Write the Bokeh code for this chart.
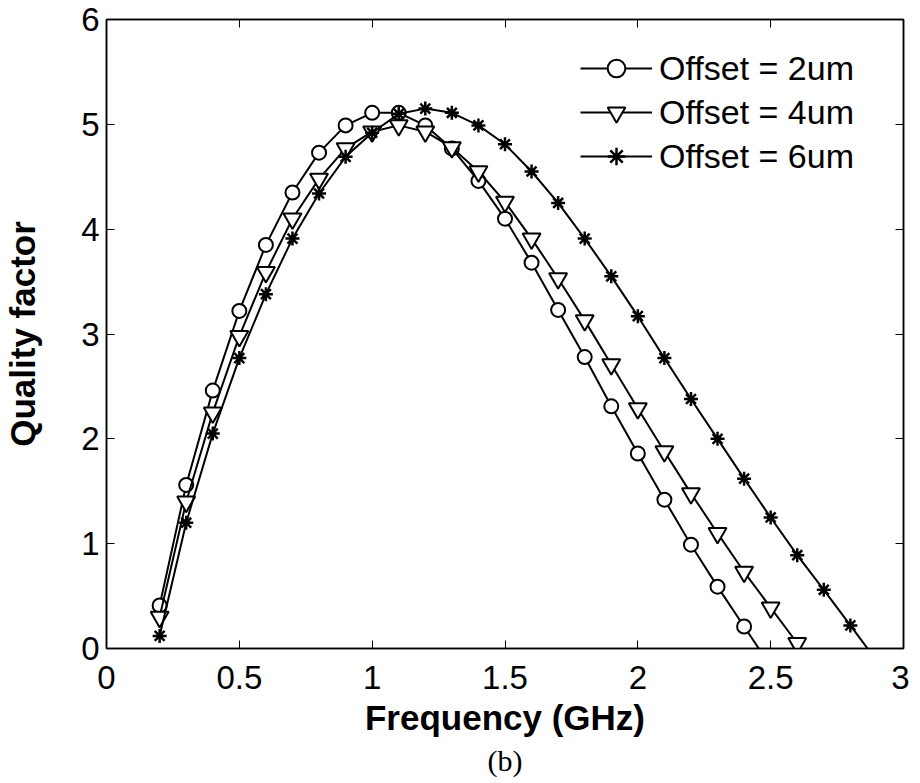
from bokeh.plotting import figure
from bokeh.models import (Range1d, FixedTicker, LinearAxis, Legend, LegendItem, Title,
                          CustomLabelingPolicy)
from bokeh.embed import file_html
from bokeh.resources import INLINE

# ---- data ----
freq_2um = [0.2, 0.3, 0.4, 0.5, 0.6, 0.7, 0.8, 0.9, 1.0, 1.1, 1.2, 1.3, 1.4, 1.5,
            1.6, 1.7, 1.8, 1.9, 2.0, 2.1, 2.2, 2.3, 2.4, 2.5]
q_2um = [0.41, 1.56, 2.46, 3.22, 3.85, 4.35, 4.73, 4.99, 5.11, 5.11, 4.99, 4.77, 4.46, 4.10,
         3.68, 3.23, 2.78, 2.31, 1.86, 1.42, 0.99, 0.59, 0.21, -0.17]

freq_4um = [0.2, 0.3, 0.4, 0.5, 0.6, 0.7, 0.8, 0.9, 1.0, 1.1, 1.2, 1.3, 1.4, 1.5,
            1.6, 1.7, 1.8, 1.9, 2.0, 2.1, 2.2, 2.3, 2.4, 2.5, 2.6]
q_4um = [0.30, 1.40, 2.25, 2.98, 3.59, 4.10, 4.48, 4.77, 4.93, 4.99, 4.93, 4.78, 4.55, 4.26,
         3.91, 3.53, 3.13, 2.71, 2.29, 1.88, 1.48, 1.10, 0.73, 0.39, 0.05]

freq_6um = [0.2, 0.3, 0.4, 0.5, 0.6, 0.7, 0.8, 0.9, 1.0, 1.1, 1.2, 1.3, 1.4, 1.5,
            1.6, 1.7, 1.8, 1.9, 2.0, 2.1, 2.2, 2.3, 2.4, 2.5, 2.6, 2.7, 2.8, 2.9]
q_6um = [0.12, 1.20, 2.05, 2.77, 3.38, 3.91, 4.34, 4.69, 4.92, 5.10, 5.15, 5.11, 4.99, 4.81,
         4.55, 4.25, 3.91, 3.55, 3.17, 2.77, 2.38, 2.00, 1.62, 1.25, 0.89, 0.56, 0.22, -0.12]

series_labels = ["Offset = 2um", "Offset = 4um", "Offset = 6um"]

x_ticks = [0, 0.5, 1, 1.5, 2, 2.5, 3]
x_tick_labels = ["0", "0.5", "1", "1.5", "2", "2.5", "3"]
y_ticks = [0, 1, 2, 3, 4, 5, 6]
y_tick_labels = ["0", "1", "2", "3", "4", "5", "6"]

x_title = "Frequency (GHz)"
y_title = "Quality factor"
caption = "(b)"

FONT = "Liberation Sans"
TICK_SIZE = "33px"
TITLE_SIZE = "35px"

p = figure(width=904, height=775, frame_width=797, frame_height=629,
           output_backend="svg", toolbar_location=None,
           x_range=Range1d(0, 3), y_range=Range1d(0, 6),
           min_border_left=101, min_border_right=6, min_border_top=19, min_border_bottom=127)
p.background_fill_color = "white"
p.border_fill_color = "white"
p.xgrid.visible = False
p.ygrid.visible = False
p.outline_line_color = "black"
p.outline_line_width = 1.5

hide_all = CustomLabelingPolicy(code="""
    for (const i of [...indices]) { indices.unset(i) }
    return indices
""")

def style_axis(ax, ticks, labels, show_labels=True):
    ax.ticker = FixedTicker(ticks=ticks)
    ax.axis_line_color = "black"
    ax.axis_line_width = 1.5
    ax.major_tick_in = 8
    ax.major_tick_out = 0
    ax.major_tick_line_width = 1
    ax.minor_tick_line_color = None
    ax.major_label_text_font = FONT
    ax.major_label_text_color = "black"
    ax.axis_label_text_font = FONT
    ax.axis_label_text_font_size = TITLE_SIZE
    ax.axis_label_text_font_style = "bold"
    ax.axis_label_text_color = "black"
    if show_labels:
        ax.major_label_overrides = {t: l for t, l in zip(ticks, labels)}
        ax.major_label_text_font_size = TICK_SIZE
    else:
        ax.major_label_policy = hide_all
        ax.major_label_text_font_size = "1px"
        ax.major_label_standoff = 0

xa = p.xaxis[0]
ya = p.yaxis[0]
style_axis(xa, x_ticks, x_tick_labels)
style_axis(ya, y_ticks, y_tick_labels)
xa.axis_label = x_title
ya.axis_label = y_title
xa.major_label_standoff = 17
ya.major_label_standoff = 7
xa.axis_label_standoff = 6
ya.axis_label_standoff = 36

xt = LinearAxis()
style_axis(xt, x_ticks, x_tick_labels, show_labels=False)
p.add_layout(xt, "above")
yr = LinearAxis()
style_axis(yr, y_ticks, y_tick_labels, show_labels=False)
p.add_layout(yr, "right")

LW = 2
l1 = p.line(freq_2um, q_2um, line_color="black", line_width=LW)
s1 = p.scatter(freq_2um, q_2um, marker="circle", size=14, line_color="black",
               line_width=LW, fill_color="white")
l2 = p.line(freq_4um, q_4um, line_color="black", line_width=LW)
s2 = p.scatter(freq_4um, q_4um, marker="inverted_triangle", size=18, line_color="black",
               line_width=LW, fill_color="white")
l3 = p.line(freq_6um, q_6um, line_color="black", line_width=LW)
s3 = p.scatter(freq_6um, q_6um, marker="asterisk", size=14, line_color="black",
               line_width=2.5)

items = [LegendItem(label=series_labels[0], renderers=[l1, s1]),
         LegendItem(label=series_labels[1], renderers=[l2, s2]),
         LegendItem(label=series_labels[2], renderers=[l3, s3])]
legend = Legend(items=items, location=(474, 470), orientation="vertical",
                padding=0, margin=0, spacing=0,
                glyph_width=72, glyph_height=44, label_height=44, label_standoff=7,
                label_text_font=FONT, label_text_font_size="34px",
                label_text_color="black", border_line_alpha=0,
                background_fill_alpha=0)
p.add_layout(legend, "center")

cap = Title(text=caption, align="center", text_font="Liberation Serif",
            text_font_size="30px", text_font_style="normal", text_color="black",
            standoff=4)
p.add_layout(cap, "below")

open("out.html", "w").write(file_html(p, INLINE))
